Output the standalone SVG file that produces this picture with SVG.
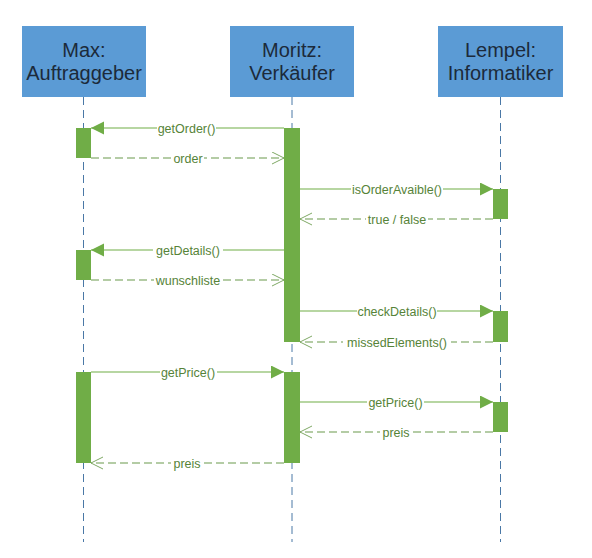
<svg xmlns="http://www.w3.org/2000/svg" width="592" height="558" viewBox="0 0 592 558">
<style>
.box{fill:#5b9bd5;}
.btxt{font-family:"Liberation Sans",Arial,sans-serif;font-size:20px;fill:#1c2a3a;text-anchor:middle;}
.life{stroke:#4a78a6;stroke-width:1;stroke-dasharray:8 5;fill:none;}
.bar{fill:#70ad47;}
.call{stroke:#70ad47;stroke-width:1.2;fill:none;marker-end:url(#filled);}
.ret{stroke:#6b9a4c;stroke-width:1.1;fill:none;stroke-dasharray:8 4;marker-end:url(#open);}
.lbg{fill:#ffffff;}
.lbl{font-family:"Liberation Sans",Arial,sans-serif;font-size:12.5px;fill:#568338;text-anchor:middle;}
</style>
<defs>
<marker id="filled" markerUnits="userSpaceOnUse" markerWidth="14" markerHeight="14" refX="13" refY="6.5" orient="auto">
<path d="M0,0 L13,6.5 L0,13 z" fill="#70ad47"/>
</marker>
<marker id="open" markerUnits="userSpaceOnUse" markerWidth="14" markerHeight="14" refX="12" refY="6.5" orient="auto">
<path d="M0,0.5 L12,6.5 L0,12.5" fill="none" stroke="#7fa865" stroke-width="1"/>
</marker>
</defs>
<rect width="592" height="558" fill="#ffffff"/>

<g id="lifelines">
<line class="life" x1="83.5" y1="97" x2="83.5" y2="542"/>
<line class="life" x1="292" y1="97" x2="292" y2="542"/>
<line class="life" x1="500.5" y1="97" x2="500.5" y2="542"/>
</g>

<g id="max">
<rect class="box" x="22" y="26" width="124" height="71"/>
<text class="btxt" x="84" y="57">Max:</text>
<text class="btxt" x="84" y="80">Auftraggeber</text>
<rect class="bar" x="76" y="128" width="15" height="30"/>
<rect class="bar" x="76" y="250" width="15" height="30"/>
<rect class="bar" x="76" y="372" width="15" height="91"/>
</g>

<g id="moritz">
<rect class="box" x="230" y="26" width="124" height="71"/>
<text class="btxt" x="292" y="57">Moritz:</text>
<text class="btxt" x="292" y="80">Verkäufer</text>
<rect class="bar" x="284" y="128" width="16" height="214"/>
<rect class="bar" x="284" y="372" width="16" height="91"/>
</g>

<g id="lempel">
<rect class="box" x="438" y="26" width="125" height="71"/>
<text class="btxt" x="500.5" y="57">Lempel:</text>
<text class="btxt" x="500.5" y="80">Informatiker</text>
<rect class="bar" x="493" y="189" width="15" height="30"/>
<rect class="bar" x="493" y="311" width="15" height="31"/>
<rect class="bar" x="493" y="402" width="15" height="30"/>
</g>

<g id="connectors">
<line class="call" x1="284" y1="128" x2="91" y2="128"/>
<rect class="lbg" x="157" y="121" width="59" height="14"/>
<text class="lbl" x="186.5" y="132.5">getOrder()</text>

<line class="ret" x1="91" y1="158" x2="284" y2="158"/>
<rect class="lbg" x="172" y="151" width="32" height="14"/>
<text class="lbl" x="188" y="162.5">order</text>

<line class="call" x1="300" y1="189" x2="493" y2="189"/>
<rect class="lbg" x="351" y="182" width="92" height="14"/>
<text class="lbl" x="397" y="193.5">isOrderAvaible()</text>

<line class="ret" x1="493" y1="219" x2="300" y2="219"/>
<rect class="lbg" x="366" y="212" width="62" height="14"/>
<text class="lbl" x="397" y="223.5">true / false</text>

<line class="call" x1="284" y1="250" x2="91" y2="250"/>
<rect class="lbg" x="153" y="243" width="70" height="14"/>
<text class="lbl" x="188" y="254.5">getDetails()</text>

<line class="ret" x1="91" y1="280" x2="284" y2="280"/>
<rect class="lbg" x="154" y="273" width="68" height="14"/>
<text class="lbl" x="188" y="284.5">wunschliste</text>

<line class="call" x1="300" y1="311" x2="493" y2="311"/>
<rect class="lbg" x="357" y="304" width="80" height="14"/>
<text class="lbl" x="397" y="315.5">checkDetails()</text>

<line class="ret" x1="493" y1="342" x2="300" y2="342"/>
<rect class="lbg" x="343" y="335" width="108" height="14"/>
<text class="lbl" x="397" y="346.5">missedElements()</text>

<line class="call" x1="91" y1="372" x2="284" y2="372"/>
<rect class="lbg" x="160" y="365" width="57" height="14"/>
<text class="lbl" x="188" y="376.5">getPrice()</text>

<line class="call" x1="300" y1="402" x2="493" y2="402"/>
<rect class="lbg" x="367" y="395" width="57" height="14"/>
<text class="lbl" x="395.5" y="406.5">getPrice()</text>

<line class="ret" x1="493" y1="432" x2="300" y2="432"/>
<rect class="lbg" x="380" y="425" width="32" height="14"/>
<text class="lbl" x="396" y="436.5">preis</text>

<line class="ret" x1="284" y1="463" x2="91" y2="463"/>
<rect class="lbg" x="171" y="456" width="32" height="14"/>
<text class="lbl" x="187" y="467.5">preis</text>
</g>
</svg>
